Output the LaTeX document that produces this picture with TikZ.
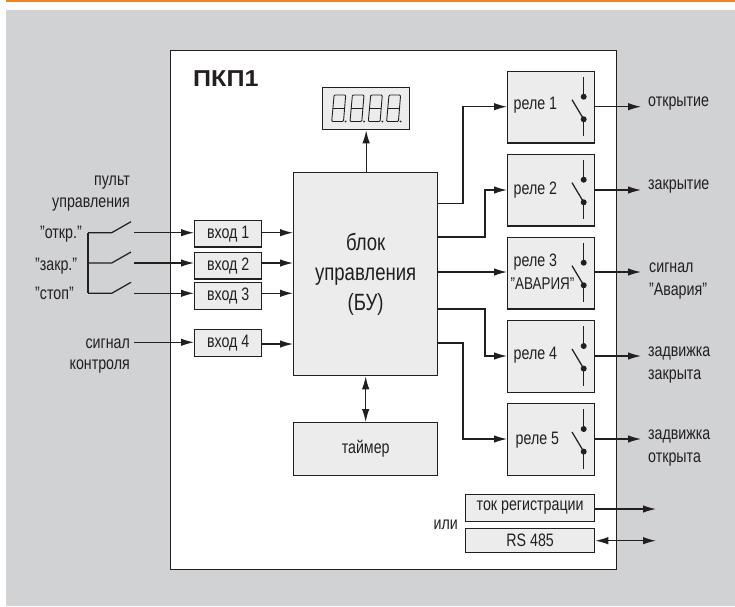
\documentclass[tikz,border=0pt]{standalone}
\usepackage{fontspec}
\usetikzlibrary{arrows.meta}
\setmainfont[FakeStretch=0.79]{Liberation Sans}
\newfontfamily\boldf[FakeStretch=1.09]{Liberation Sans Bold}
\definecolor{pagegray}{RGB}{208,210,211}
\definecolor{boxfill}{RGB}{236,236,236}
\definecolor{inkc}{RGB}{35,31,32}
\definecolor{topbar}{RGB}{243,130,32}
\tikzset{
  x=1pt,y=-1pt,
  panel/.style={draw=inkc,line width=1.3pt,fill=white},
  blockbox/.style={draw=inkc,line width=1.3pt,fill=boxfill,inner sep=0pt,align=center,text=inkc},
  wire/.style={draw=inkc,line width=1.25pt},
  arr/.style={wire,-{Latex[length=13pt,width=7.5pt]}},
  darr/.style={wire,{Latex[length=13pt,width=7.5pt]}-{Latex[length=13pt,width=7.5pt]}},
  lbl/.style={font=\fontsize{18}{22}\selectfont,text=inkc,inner sep=0pt,align=center},
  lblr/.style={lbl,align=right,anchor=east},
  lbll/.style={lbl,align=left,anchor=west},
  seg/.style={draw=inkc,line width=.9pt},
  sw/.style={draw=inkc,line width=1.25pt},
  swdot/.style={circle,fill=inkc,inner sep=0pt,minimum size=6pt}
}
\newcommand{\relaybox}[2]{% name, top y
  \node[blockbox,minimum width=87pt,minimum height=71.5pt,anchor=north west] (#1) at (507,#2) {};
  \begin{scope}[shift={(583.7,#2)}]
    \draw[sw] (0,6) -- (0,26);
    \draw[sw] (0,48.6) -- (0,65.5);
    \draw[sw] (-11.7,29) -- (0,48.6);
    \node[swdot] (#1up) at (0,26) {};
    \node[swdot] (#1lo) at (0,48.6) {};
  \end{scope}
}
\newcommand{\digit}[1]{%
  \begin{scope}[shift={(#1,0)}]
    \draw[seg,rounded corners=1pt] (2.4,0) -- (14,0) -- (11.8,26.5) -- (0,26.5) -- cycle;
    \draw[seg] (1.2,13.2) -- (12.9,13.2);
    \node[circle,fill=inkc,inner sep=0pt,minimum size=2pt] (d#1) at (14,26.5) {};
  \end{scope}
}
\begin{document}
\begin{tikzpicture}
\useasboundingbox (0,0) rectangle (735,606);
\fill[topbar] (6,0) rectangle (735,2);
\fill[pagegray] (6,10) rectangle (735,606);
\node[panel,minimum width=446pt,minimum height=519pt,anchor=north west,inner sep=0pt] (panel) at (170,50) {};
\node[anchor=west,inner sep=0pt,text=inkc,font=\boldf\fontsize{23}{26}\selectfont] (title) at (193,78.5) {ПКП1};

% display
\node[blockbox,minimum width=87pt,minimum height=42pt,anchor=north west] (disp) at (322,87) {};
\begin{scope}[shift={(331.7,95)}]
  \digit{0}\digit{18.3}\digit{36.6}\digit{54.9}
\end{scope}

% main blocks
\node[blockbox,minimum width=144pt,minimum height=203pt,anchor=north west,font=\fontsize{23.5}{30}\selectfont] (bu) at (293,172) {блок\\управления\\(БУ)};
\node[blockbox,minimum width=144pt,minimum height=53pt,anchor=north west,font=\fontsize{18}{20}\selectfont] (timer) at (293,422) {таймер};

% inputs
\tikzset{inbox/.style={blockbox,minimum width=67pt,minimum height=26.5pt,anchor=north west,font=\fontsize{18}{20}\selectfont}}
\node[inbox] (in1) at (194,219.7) {вход 1};
\node[inbox] (in2) at (194,251.7) {вход 2};
\node[inbox] (in3) at (194,282) {вход 3};
\node[inbox] (in4) at (194,329) {вход 4};

% relays
\relaybox{r1}{70.7}
\relaybox{r2}{153.7}
\relaybox{r3}{236.7}
\relaybox{r4}{320}
\relaybox{r5}{403}
\node[lbl,anchor=west] (t1) at (513.5,105) {реле 1};
\node[lbl,anchor=west] (t2) at (513.5,190) {реле 2};
\node[lbl,anchor=west] (t3a) at (513.5,262) {реле 3};
\node[lbl,anchor=west,font=\fontsize{17}{20}\selectfont] (t3b) at (510.5,284) {"АВАРИЯ"};
\node[lbl,anchor=west] (t4) at (513.5,355) {реле 4};
\node[lbl,anchor=west] (t5) at (515.5,440) {реле 5};

% output boxes
\node[blockbox,minimum width=129pt,minimum height=26.5pt,anchor=north west,font=\fontsize{18}{20}\selectfont] (reg) at (465,494) {\raisebox{-2pt}{ток регистрации}};
\node[blockbox,minimum width=129pt,minimum height=23.5pt,anchor=north west,font=\fontsize{18}{20}\selectfont] (rs) at (465,528) {RS 485};
\node[lbl,anchor=east] (ili) at (458,525) {или};

% left labels
\node[lblr] (pult) at (130,194) {пульт\\управления};
\node[lblr] (o) at (82,234) {"откр."};
\node[lbll] (z) at (35,266) {"закр."};
\node[lbll] (s) at (35,293) {"стоп"};
\node[lblr] (sig) at (130,344) {сигнал};
\node[lblr] (kon) at (130,367) {контроля};

% switches
\coordinate (busT) at (88,232.7);
\coordinate (busM) at (88,263);
\coordinate (busB) at (88,293.3);
\foreach \n/\yy in {1/232.7,2/263,3/293.3}{
  \coordinate (sa\n) at (111.7,\yy);
  \coordinate (sb\n) at (131,\yy-11);
  \coordinate (sc\n) at (134,\yy);
  \draw[sw,line join=miter] (88,\yy) -- (sa\n) -- (sb\n);
  \draw[arr] (sc\n) -- (in\n.west |- sc\n);
  \draw[arr] (in\n.east |- sc\n) -- (bu.west |- sc\n);
}
\draw[sw,line cap=square] (busT) -- (busB);
\coordinate (sigs) at (134,342.3);
\draw[arr] (sigs) -- (in4.west |- sigs);
\coordinate (in4o) at (261,344);
\draw[arr] (in4o) -- (bu.west |- in4o);

% block connectors
\draw[arr] (bu.north -| disp.south) -- (disp.south);
\draw[darr] (bu.south) -- (timer.north);
\foreach \n/\ya/\xm/\yb in {r1/203.3/463/106.7,r2/237/485/190,r4/309/485/356,r5/343/463/439}{
  \coordinate (o\n) at (437,\ya);
  \coordinate (e\n) at (\n.west |- {(0,\yb)});
  \draw[arr] (o\n) -- (\xm,\ya) -- (\xm,\yb) -- (e\n);
}
\coordinate (or3) at (437,272);
\draw[arr] (or3) -- (r3.west |- or3);

% outputs
\foreach \n/\yy in {r1/106.7,r2/190,r3/272,r4/356,r5/439}{
  \coordinate (ox\n) at (594,\yy);
  \coordinate (oy\n) at (641,\yy);
  \draw[arr] (ox\n) -- (oy\n);
}
\coordinate (regend) at (656,509);
\draw[arr] (reg.east |- regend) -- (regend);
\coordinate (rsend) at (656,540.7);
\draw[darr] (rs.east |- rsend) -- (rsend);

% right labels
\node[lbll] (a) at (648,104) {открытие};
\node[lbll] (b) at (648,187) {закрытие};
\node[lbll] (c) at (649,268) {сигнал};
\node[lbll] (d) at (649,291) {"Авария"};
\node[lbll] (e) at (648,353) {задвижка};
\node[lbll] (f) at (648,377) {закрыта};
\node[lbll] (g) at (648,436) {задвижка};
\node[lbll] (h) at (648,460) {открыта};
\end{tikzpicture}
\end{document}
